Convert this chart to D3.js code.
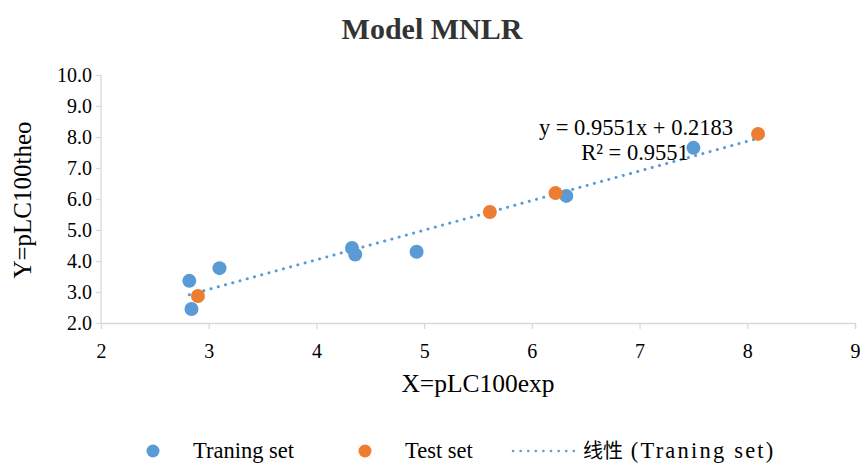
<!DOCTYPE html>
<html><head><meta charset="utf-8">
<script src="https://cdn.jsdelivr.net/npm/d3@7"></script>
<style>body{margin:0;background:#fff;} svg{display:block;} text{font-family:'Liberation Serif','Times New Roman',serif;}</style>
</head><body>
<script>
const trainX = [2.82, 2.84, 3.10, 4.33, 4.36, 4.93, 6.32, 7.50];
const trainY = [3.36, 2.45, 3.77, 4.42, 4.21, 4.30, 6.10, 7.65];
const testX = [2.90, 5.61, 6.22, 8.10];
const testY = [2.87, 5.58, 6.19, 8.10];
const slope = 0.9551, intercept = 0.2183;
const xTicks = [2,3,4,5,6,7,8,9];
const yTicks = [2,3,4,5,6,7,8,9,10];

const W = 863, H = 463;
const svg = d3.select("body").append("svg").attr("width", W).attr("height", H);
const serif = "'Liberation Serif','Times New Roman',serif";
const x = d3.scaleLinear().domain([2, 9]).range([101, 855]);
const y = d3.scaleLinear().domain([2, 10]).range([323, 75]);
const blue = "#5b9bd5", orange = "#ed7d31", axisCol = "#d9d9d9";

svg.append("text").attr("x", 432).attr("y", 39).attr("text-anchor", "middle")
  .style("font-family", serif).attr("font-weight", "bold").attr("font-size", 30).attr("fill", "#333").text("Model MNLR");

const xa = svg.append("g").attr("transform", "translate(0,323)")
  .call(d3.axisBottom(x).tickValues(xTicks).tickFormat(d3.format("d")).tickSize(6).tickPadding(15));
const ya = svg.append("g").attr("transform", "translate(101,0)")
  .call(d3.axisLeft(y).tickValues(yTicks).tickFormat(d3.format(".1f")).tickSize(5).tickPadding(4));
[xa, ya].forEach(a => {
  a.attr("font-family", serif);
  a.selectAll("path,line").attr("stroke", axisCol).attr("stroke-width", 1.3);
  a.selectAll("text").attr("font-family", serif).style("font-family", serif).attr("font-size", 20).attr("fill", "#000");
});
ya.select(".domain").attr("d", "M0,75V323");

svg.append("text").attr("transform", "translate(31,200) rotate(-90)").attr("text-anchor", "middle")
  .style("font-family", serif).attr("font-size", 25).text("Y=pLC100theo");
svg.append("text").attr("x", 478).attr("y", 392).attr("text-anchor", "middle")
  .style("font-family", serif).attr("font-size", 25.5).text("X=pLC100exp");

const allX = trainX.concat(testX);
const ext = d3.extent(allX);
svg.append("line").attr("x1", x(ext[0])).attr("y1", y(slope*ext[0]+intercept))
  .attr("x2", x(ext[1])).attr("y2", y(slope*ext[1]+intercept))
  .attr("stroke", blue).attr("stroke-width", 3).attr("stroke-linecap", "round")
  .attr("stroke-dasharray", "0.1,7.4");

svg.append("g").selectAll("circle").data(trainX).join("circle")
  .attr("cx", d => x(d)).attr("cy", (d, i) => y(trainY[i])).attr("r", 7).attr("fill", blue);
svg.append("g").selectAll("circle").data(testX).join("circle")
  .attr("cx", d => x(d)).attr("cy", (d, i) => y(testY[i])).attr("r", 7).attr("fill", orange);

svg.append("text").attr("x", 636).attr("y", 135).attr("text-anchor", "middle")
  .style("font-family", serif).attr("font-size", 22.5).text("y = 0.9551x + 0.2183");
svg.append("text").attr("x", 635).attr("y", 160).attr("text-anchor", "middle")
  .style("font-family", serif).attr("font-size", 22.5).text("R² = 0.9551");

const lg = svg.append("g").attr("font-size", 22.5);
lg.append("circle").attr("cx", 153).attr("cy", 451).attr("r", 6.5).attr("fill", blue);
lg.append("text").attr("x", 193).attr("y", 458).style("font-family", serif).text("Traning set");
lg.append("circle").attr("cx", 365).attr("cy", 451).attr("r", 6.5).attr("fill", orange);
lg.append("text").attr("x", 405).attr("y", 458).style("font-family", serif).text("Test set");
lg.append("line").attr("x1", 513).attr("x2", 574).attr("y1", 451).attr("y2", 451)
  .attr("stroke", blue).attr("stroke-width", 2.5).attr("stroke-linecap", "round").attr("stroke-dasharray", "0.1,7.5");
const t3 = lg.append("text").attr("x", 583).attr("y", 458).style("font-family", serif);
t3.append("tspan").style("font-family", "'Noto Sans CJK SC'").attr("font-size", 20).text("线性");
t3.append("tspan").attr("letter-spacing", 2.2).text(" (Traning set)");
</script>
</body></html>
